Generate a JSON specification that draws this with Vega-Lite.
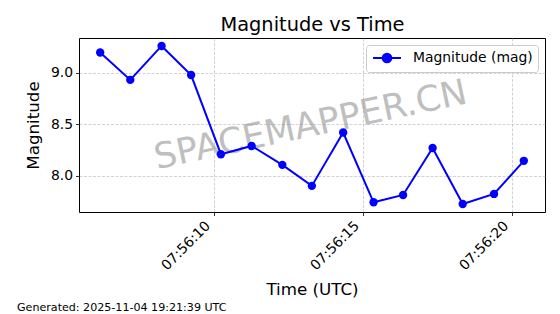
{
  "$schema": "https://vega.github.io/schema/vega-lite/v6.json",
  "width": 466,
  "height": 174,
  "autosize": {"type": "none"},
  "padding": {"left": 79, "top": 38, "right": 15, "bottom": 102},
  "background": "white",
  "config": {
    "font": "DejaVu Sans",
    "view": {"stroke": "black", "strokeWidth": 1},
    "axis": {
      "labelFont": "DejaVu Sans",
      "titleFont": "DejaVu Sans",
      "labelColor": "black",
      "titleColor": "black",
      "tickColor": "black",
      "domain": false,
      "gridColor": "#b0b0b0",
      "gridDash": [3, 1.5],
      "gridOpacity": 0.7,
      "gridWidth": 0.8,
      "labelFontSize": 13.9,
      "titleFontSize": 16.7,
      "titleFontWeight": "normal",
      "tickSize": 3.5,
      "tickWidth": 0.8,
      "labelPadding": 3
    }
  },
  "title": {
    "text": "Generated: 2025-11-04 19:21:39 UTC",
    "orient": "bottom",
    "anchor": "start",
    "frame": "group",
    "dx": -62,
    "offset": 4,
    "fontSize": 11.1,
    "fontWeight": "normal",
    "font": "DejaVu Sans",
    "color": "black"
  },
  "data": {
    "values": [
      {"time": "2025-11-04T07:56:06.190Z", "mag": 9.195, "series": "Magnitude (mag)"},
      {"time": "2025-11-04T07:56:07.200Z", "mag": 8.93, "series": "Magnitude (mag)"},
      {"time": "2025-11-04T07:56:08.250Z", "mag": 9.259, "series": "Magnitude (mag)"},
      {"time": "2025-11-04T07:56:09.240Z", "mag": 8.977, "series": "Magnitude (mag)"},
      {"time": "2025-11-04T07:56:10.240Z", "mag": 8.21, "series": "Magnitude (mag)"},
      {"time": "2025-11-04T07:56:11.270Z", "mag": 8.29, "series": "Magnitude (mag)"},
      {"time": "2025-11-04T07:56:12.300Z", "mag": 8.107, "series": "Magnitude (mag)"},
      {"time": "2025-11-04T07:56:13.290Z", "mag": 7.903, "series": "Magnitude (mag)"},
      {"time": "2025-11-04T07:56:14.340Z", "mag": 8.42, "series": "Magnitude (mag)"},
      {"time": "2025-11-04T07:56:15.360Z", "mag": 7.744, "series": "Magnitude (mag)"},
      {"time": "2025-11-04T07:56:16.350Z", "mag": 7.815, "series": "Magnitude (mag)"},
      {"time": "2025-11-04T07:56:17.340Z", "mag": 8.27, "series": "Magnitude (mag)"},
      {"time": "2025-11-04T07:56:18.350Z", "mag": 7.727, "series": "Magnitude (mag)"},
      {"time": "2025-11-04T07:56:19.400Z", "mag": 7.825, "series": "Magnitude (mag)"},
      {"time": "2025-11-04T07:56:20.400Z", "mag": 8.146, "series": "Magnitude (mag)"}
    ]
  },
  "layer": [
    {
      "data": {"values": [{"label": "SPACEMAPPER.CN"}]},
      "mark": {"type": "text", "font": "DejaVu Sans", "fontSize": 35.5, "color": "#808080", "opacity": 0.5, "angle": -12, "align": "center", "baseline": "middle"},
      "encoding": {
        "text": {"field": "label"},
        "x": {
          "datum": {"year": 2025, "month": 11, "date": 4, "hours": 7, "minutes": 56, "seconds": 13, "milliseconds": 250, "utc": true},
          "type": "temporal",
          "axis": {"orient": "top", "title": "Magnitude vs Time", "labels": false, "ticks": false, "grid": false, "domain": false, "titleFontSize": 19.4, "titlePadding": 4}
        },
        "y": {"datum": 8.49, "type": "quantitative", "title": "Magnitude", "axis": {"values": [8.0, 8.5, 9.0], "format": ".1f", "titlePadding": 8, "grid": true}}
      }
    },
    {
      "mark": {"type": "line", "color": "#0000ff", "strokeWidth": 2},
      "encoding": {
        "x": {
          "field": "time",
          "type": "temporal",
          "title": "Time (UTC)",
          "scale": {
            "type": "utc",
            "domain": [
              {"year": 2025, "month": 11, "date": 4, "hours": 7, "minutes": 56, "seconds": 5, "milliseconds": 480, "utc": true},
              {"year": 2025, "month": 11, "date": 4, "hours": 7, "minutes": 56, "seconds": 21, "milliseconds": 110, "utc": true}
            ],
            "nice": false
          },
          "axis": {
            "orient": "bottom",
            "format": "%H:%M:%S",
            "labelAngle": -45,
            "labelOffset": -11,
            "titlePadding": 9,
            "grid": true,
            "values": [
              {"year": 2025, "month": 11, "date": 4, "hours": 7, "minutes": 56, "seconds": 10, "utc": true},
              {"year": 2025, "month": 11, "date": 4, "hours": 7, "minutes": 56, "seconds": 15, "utc": true},
              {"year": 2025, "month": 11, "date": 4, "hours": 7, "minutes": 56, "seconds": 20, "utc": true}
            ]
          }
        },
        "y": {
          "field": "mag",
          "type": "quantitative",
          "title": "Magnitude",
          "scale": {"domain": [7.65, 9.336], "nice": false, "zero": false},
          "axis": {"values": [8.0, 8.5, 9.0], "format": ".1f", "titlePadding": 8, "grid": true}
        },
        "color": {
          "field": "series",
          "type": "nominal",
          "scale": {"range": ["#0000ff"]},
          "legend": {
            "title": null,
            "orient": "top-right",
            "offset": 7,
            "fillColor": "white",
            "strokeColor": "#cccccc",
            "cornerRadius": 3,
            "padding": 5,
            "labelFont": "DejaVu Sans",
            "labelFontSize": 13.9,
            "labelColor": "black",
            "symbolOffset": 8,
            "labelOffset": 18,
            "symbolType": "M-2,0H2M0.62,0A0.62,0.62,0,1,1,-0.62,0A0.62,0.62,0,1,1,0.62,0Z",
            "symbolSize": 196,
            "symbolStrokeWidth": 2,
            "encode": {
              "symbols": {"update": {"fill": {"value": "#0000ff"}, "stroke": {"value": "#0000ff"}, "strokeWidth": {"value": 2}, "opacity": {"value": 1}}}
            }
          }
        }
      }
    },
    {
      "mark": {"type": "point", "filled": true, "size": 70, "opacity": 1, "shape": "circle"},
      "encoding": {
        "x": {"field": "time", "type": "temporal", "title": "Time (UTC)", "axis": null},
        "y": {"field": "mag", "type": "quantitative", "title": "Magnitude", "axis": {"values": [8.0, 8.5, 9.0], "format": ".1f", "titlePadding": 8, "grid": true}},
        "color": {"field": "series", "type": "nominal"}
      }
    }
  ],
  "resolve": {"axis": {"x": "independent"}}
}
